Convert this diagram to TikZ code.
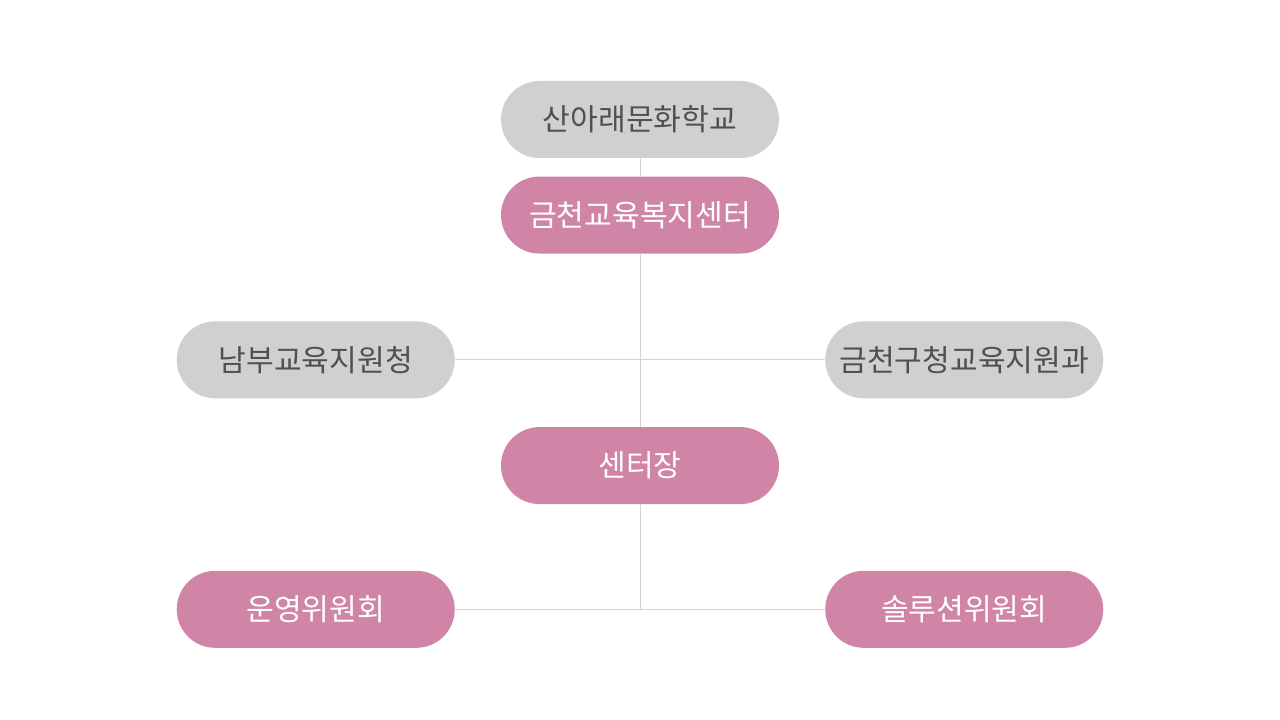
\documentclass[tikz,border=0pt]{standalone}
\usepackage{fontspec}
\setmainfont{Noto Sans CJK KR}
\usepackage{tikz}
\usetikzlibrary{positioning}
\definecolor{pillgray}{RGB}{208,208,208}
\definecolor{pillpink}{RGB}{208,133,166}
\definecolor{textgray}{RGB}{80,80,80}
\definecolor{linegray}{RGB}{212,212,212}

\begin{document}
\begin{tikzpicture}
	% Define styles
	\tikzset{
		pill/.style={rectangle, rounded corners=28.8pt, minimum width=208.5pt, minimum height=57.75pt, inner sep=0pt, font=\fontsize{22.6pt}{26pt}\selectfont},
		grey/.style={pill, fill=pillgray, text=textgray},
		pink/.style={pill, fill=pillpink, text=white},
		line/.style={draw=linegray, line width=0.75pt}
	}
	\useasboundingbox (-480pt,89.625pt) rectangle (480pt,-450.375pt);
	% Nodes
	\node[grey] (school) at (0,0) {산아래문화학교};
	\node[pink, below=13.5pt of school] (welfare) {금천교육복지센터};
	\coordinate[below=79.5pt of welfare] (hub1);
	\node[grey, left=138.75pt of hub1] (south) {남부교육지원청};
	\node[grey, right=138.75pt of hub1] (gu) {금천구청교육지원과};
	\node[pink, below=50.25pt of hub1] (chief) {센터장};
	\coordinate[below=78.75pt of chief] (hub2);
	\node[pink, left=138.75pt of hub2] (board) {운영위원회};
	\node[pink, right=138.75pt of hub2] (solution) {솔루션위원회};
	
	% Lines
	\draw[line] (school) -- (welfare);
	\draw[line] (welfare) -- (chief);
	\draw[line] (chief) -- (hub2);
	\draw[line] (south) -- (gu);
	\draw[line] (board) -- (solution);
\end{tikzpicture}
\end{document}
